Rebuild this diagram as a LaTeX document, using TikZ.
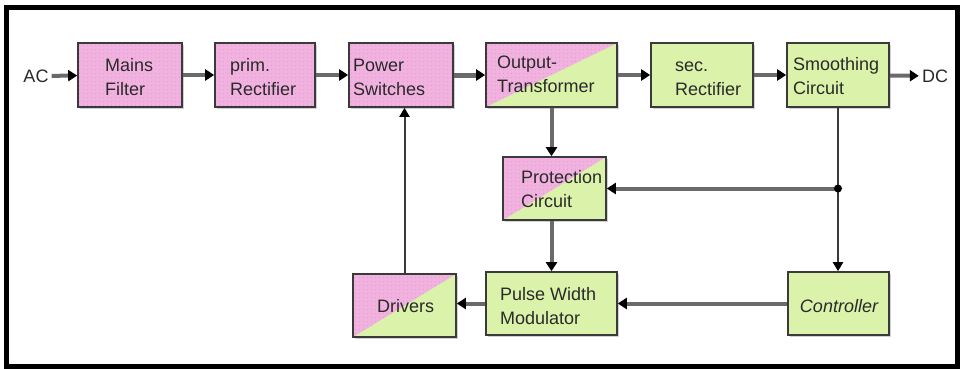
\documentclass[tikz,border=0pt]{standalone}
\usepackage{fontspec}
\setmainfont{Liberation Sans}
\usetikzlibrary{arrows.meta,shadows,patterns.meta}
\definecolor{pnk}{HTML}{F2B2E0}
\definecolor{pdot}{HTML}{D88ECB}
\definecolor{grn}{HTML}{DAF2AA}
\definecolor{edge}{HTML}{3A3A3A}
\definecolor{wire}{HTML}{6A6A6A}
\definecolor{ink}{HTML}{2A2A2A}
\begin{document}
\begin{tikzpicture}[x=1pt,y=-1pt,
  blk/.style={rectangle,draw=edge,line width=1.6pt,inner sep=0pt,minimum height=64pt,
    drop shadow={shadow xshift=2pt,shadow yshift=-2pt,fill=black,opacity=0.18}},
  pinkbox/.style={blk,fill=pnk,path picture={
    \fill[pattern={Dots[distance=4pt,radius=0.6pt]},pattern color=pdot]
      (path picture bounding box.south west) rectangle (path picture bounding box.north east);}},
  greenbox/.style={blk,fill=grn},
  splitbox/.style={blk,fill=grn,path picture={
    \fill[pnk] (path picture bounding box.south west) -- (path picture bounding box.north west)
      -- (path picture bounding box.north east) -- cycle;
    \fill[pattern={Dots[distance=4pt,radius=0.6pt]},pattern color=pdot]
      (path picture bounding box.south west) -- (path picture bounding box.north west)
      -- (path picture bounding box.north east) -- cycle;}},
  txt/.style={font=\fontsize{18}{24}\selectfont,text=ink,align=left,inner sep=0pt,anchor=base west},
  lbl/.style={font=\fontsize{18}{24}\selectfont,text=ink,inner sep=3pt},
  conn/.style={draw=wire,line width=4pt,-{Triangle[length=9pt,width=11pt,color=black]}},
  thinconn/.style={draw=edge,line width=2pt,-{Triangle[length=9pt,width=10pt,color=black]}}
]
\useasboundingbox (0,0) rectangle (960,368);
\fill[white] (0,0) rectangle (960,368);
\draw[line width=5pt] (6,7) rectangle (957,366);

% top row
\node[pinkbox,minimum width=104pt] (mf) at (130,75) {};
\node[pinkbox,minimum width=100pt] (pr) at (265,75) {};
\node[pinkbox,minimum width=104pt] (ps) at (401,75) {};
\node[splitbox,minimum width=131pt] (ot) at (551.5,75) {};
\node[greenbox,minimum width=102pt] (sr) at (702,75) {};
\node[greenbox,minimum width=102pt] (sm) at (838,75) {};
% middle and bottom
\node[splitbox,minimum width=103pt,minimum height=63pt] (prot) at (554.5,188.5) {};
\node[greenbox,minimum width=131pt,minimum height=63pt] (pwm) at (551.5,303.5) {};
\node[splitbox,minimum width=103pt,minimum height=63pt] (drv) at (404.5,305.5) {};
\node[greenbox,minimum width=101pt,minimum height=63pt] (ctrl) at (838.5,303.5) {};

% texts (anchor at baseline of the last line)
\node[txt] (mft) at (105,95) {Mains\\Filter};
\node[txt] (prt) at (230,95) {prim.\\Rectifier};
\node[txt] (pst) at (353,95) {Power\\Switches};
\node[txt] (ott) at (497,92) {Output-\\Transformer};
\node[txt] (srt) at (675,95) {sec.\\Rectifier};
\node[txt] (smt) at (793,94) {Smoothing\\Circuit};
\node[txt] (prott) at (521,207) {Protection\\Circuit};
\node[txt] (pwmt) at (500,324) {Pulse Width\\Modulator};
\node[txt] (drvt) at (377,312) {Drivers};
\node[txt,anchor=base] (ctrlt) at (839,312) {\itshape Controller};

\node[lbl] (ac) at (36,76) {AC};
\node[lbl] (dc) at (935,76) {DC};

% connectors
\draw[conn] (ac) -- (mf);
\draw[conn] (mf) -- (pr);
\draw[conn] (pr) -- (ps);
\draw[conn,line width=5pt] (ps) -- (ot);
\draw[conn] (ot) -- (sr);
\draw[conn] (sr) -- (sm);
\draw[conn] (sm) -- (dc);
\draw[conn] (ot.south) -- (ot.south |- prot.north);
\draw[conn] (prot.south -| ot.south) -- (pwm.north);
\coordinate (dot) at (sm.south |- prot.east);
\draw[thinconn] (sm.south) -- (ctrl.north -| sm.south);
\draw[conn] (dot) -- (prot.east);
\fill[black] (dot) circle (4pt);
\draw[conn] (ctrl.west) -- (ctrl.west -| pwm.east);
\draw[conn] (pwm.west) -- (pwm.west -| drv.east);
\draw[thinconn] (drv.north) -- (drv.north |- ps.south);
\end{tikzpicture}
\end{document}
